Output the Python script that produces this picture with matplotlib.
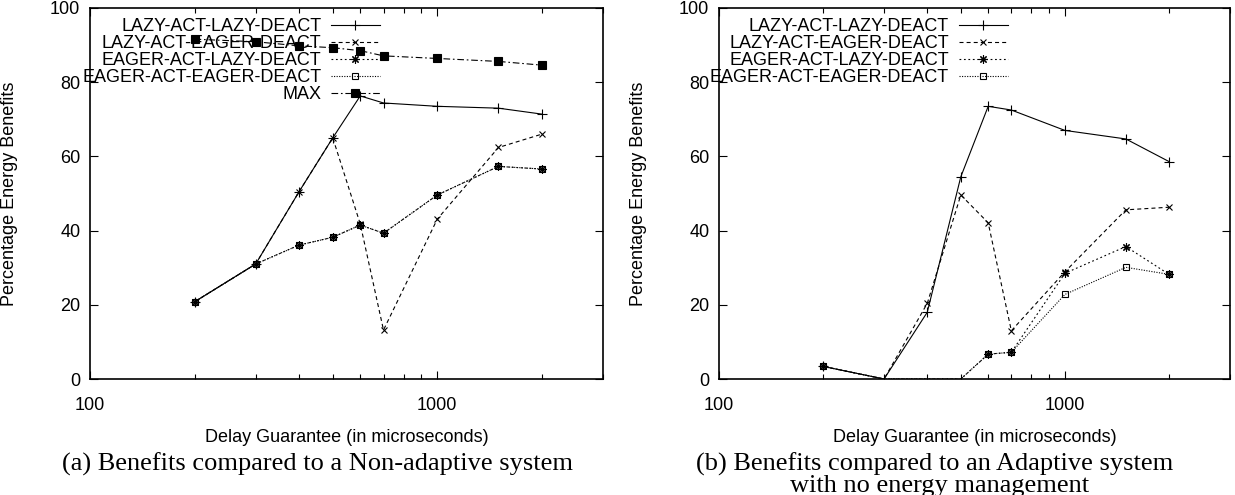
import matplotlib
matplotlib.use("Agg")
import matplotlib.pyplot as plt
from matplotlib.ticker import LogLocator, NullFormatter, FixedLocator, FixedFormatter

# ---------------- data ----------------
delay = [200, 300, 400, 500, 600, 700, 1000, 1500, 2000]

# (a) compared to a Non-adaptive system
lazy_lazy_a = [20.8, 31.0, 50.5, 65.0, 76.3, 74.4, 73.5, 73.0, 71.4]
lazy_eager_a = [20.8, 31.0, 50.5, 65.0, 41.8, 13.2, 43.1, 62.4, 66.0]
eager_lazy_a = [20.8, 31.0, 36.1, 38.2, 41.5, 39.3, 49.6, 57.3, 56.6]
eager_eager_a = [20.8, 31.0, 36.1, 38.2, 41.5, 39.3, 49.6, 57.3, 56.6]
max_a = [91.6, 90.9, 89.8, 89.3, 88.5, 87.1, 86.4, 85.6, 84.6]

# (b) compared to an Adaptive system with no energy management
lazy_lazy_b = [3.4, 0.0, 18.0, 54.5, 73.5, 72.5, 67.0, 64.7, 58.6]
lazy_eager_b = [3.4, 0.0, 20.4, 49.6, 42.1, 13.0, 28.9, 45.6, 46.3]
eager_lazy_b = [3.4, 0.0, 0.0, 0.0, 6.7, 7.2, 28.5, 35.7, 28.2]
eager_eager_b = [3.4, 0.0, 0.0, 0.0, 6.7, 7.2, 22.8, 30.1, 28.2]

labels = ["LAZY-ACT-LAZY-DEACT", "LAZY-ACT-EAGER-DEACT",
          "EAGER-ACT-LAZY-DEACT", "EAGER-ACT-EAGER-DEACT", "MAX"]
x_ticks = [100, 1000]
x_ticklabels = ["100", "1000"]
y_ticks = [0, 20, 40, 60, 80, 100]
xlabel = "Delay Guarantee (in microseconds)"
ylabel = "Percentage Energy Benefits"
caption_a = "(a) Benefits compared to a Non-adaptive system"
caption_b1 = "(b) Benefits compared to an Adaptive system"
caption_b2 = "with no energy management"

# ---------------- style ----------------
SANS = ["Liberation Sans", "DejaVu Sans"]
SERIF = ["Liberation Serif", "DejaVu Serif"]
plt.rcParams["font.family"] = SANS
FS = 13.0
LW = 0.8

styles = [
    dict(linestyle="-", marker="+", ms=6.5, mfc="none"),
    dict(linestyle=(0, (3.6, 2.8)), marker="x", ms=5.0, mfc="none"),
    dict(linestyle=(0, (1.6, 2.4)), marker=(8, 2, 0), ms=6.0, mfc="none"),
    dict(linestyle=(0, (1.0, 1.3)), marker="s", ms=5.0, mfc="none"),
    dict(linestyle=(0, (6.0, 2.5, 1.5, 2.5)), marker="s", ms=6.0, mfc="black"),
]

fig = plt.figure(figsize=(12.35, 4.95), dpi=100)
W, H = 1235.0, 495.0
ax_a = fig.add_axes([90 / W, (H - 379) / H, 513 / W, 371 / H])
ax_b = fig.add_axes([719 / W, (H - 379) / H, 511 / W, 371 / H])


def draw(ax, series):
    for i, vals in enumerate(series):
        st = styles[i]
        mk = [k for k, v in enumerate(vals) if v > 0]
        ax.plot(delay, vals, color="black", lw=LW, linestyle=st["linestyle"],
                marker=st["marker"], ms=st["ms"], mfc=st["mfc"], mec="black",
                mew=LW, markevery=mk, label=labels[i], clip_on=True)
    ax.set_xscale("log")
    ax.set_xlim(100, 3000)
    ax.set_ylim(0, 100)
    ax.xaxis.set_major_locator(FixedLocator(x_ticks))
    ax.xaxis.set_major_formatter(FixedFormatter(x_ticklabels))
    ax.xaxis.set_minor_locator(LogLocator(base=10, subs=range(2, 10)))
    ax.xaxis.set_minor_formatter(NullFormatter())
    ax.set_yticks(y_ticks)
    ax.tick_params(which="both", direction="in", top=True, right=True,
                   labelsize=FS, width=0.8, colors="black")
    ax.tick_params(which="major", length=6)
    ax.tick_params(which="minor", length=3.5)
    ax.tick_params(axis="x", pad=13)
    ax.tick_params(axis="y", pad=7)
    for sp in ax.spines.values():
        sp.set_linewidth(1.2)
        sp.set_color("black")
    ax.set_xlabel(xlabel, fontsize=FS)
    ax.set_ylabel(ylabel, fontsize=FS)
    ax.xaxis.set_label_coords(0.5, (379 - 429) / 371.0)
    ax.yaxis.set_label_coords((18 - 90) / 513.0, 0.5)
    leg = ax.legend(loc="upper right", bbox_to_anchor=(0.565, 1 - 10.5 / 371.0),
                    frameon=False, markerfirst=False, fontsize=FS,
                    handlelength=2.7, handletextpad=0.55, labelspacing=0.0,
                    borderpad=0, borderaxespad=0)
    return leg


draw(ax_a, [lazy_lazy_a, lazy_eager_a, eager_lazy_a, eager_eager_a, max_a])
draw(ax_b, [lazy_lazy_b, lazy_eager_b, eager_lazy_b, eager_eager_b])

fig.text(317 / W, 1 - 464 / H, caption_a, ha="center", va="center",
         family=SERIF, fontsize=19)
fig.text(935 / W, 1 - 464 / H, caption_b1, ha="center", va="center",
         family=SERIF, fontsize=19)
fig.text(940 / W, 1 - 486 / H, caption_b2, ha="center", va="center",
         family=SERIF, fontsize=19)

fig.savefig("out.png", dpi=100)
